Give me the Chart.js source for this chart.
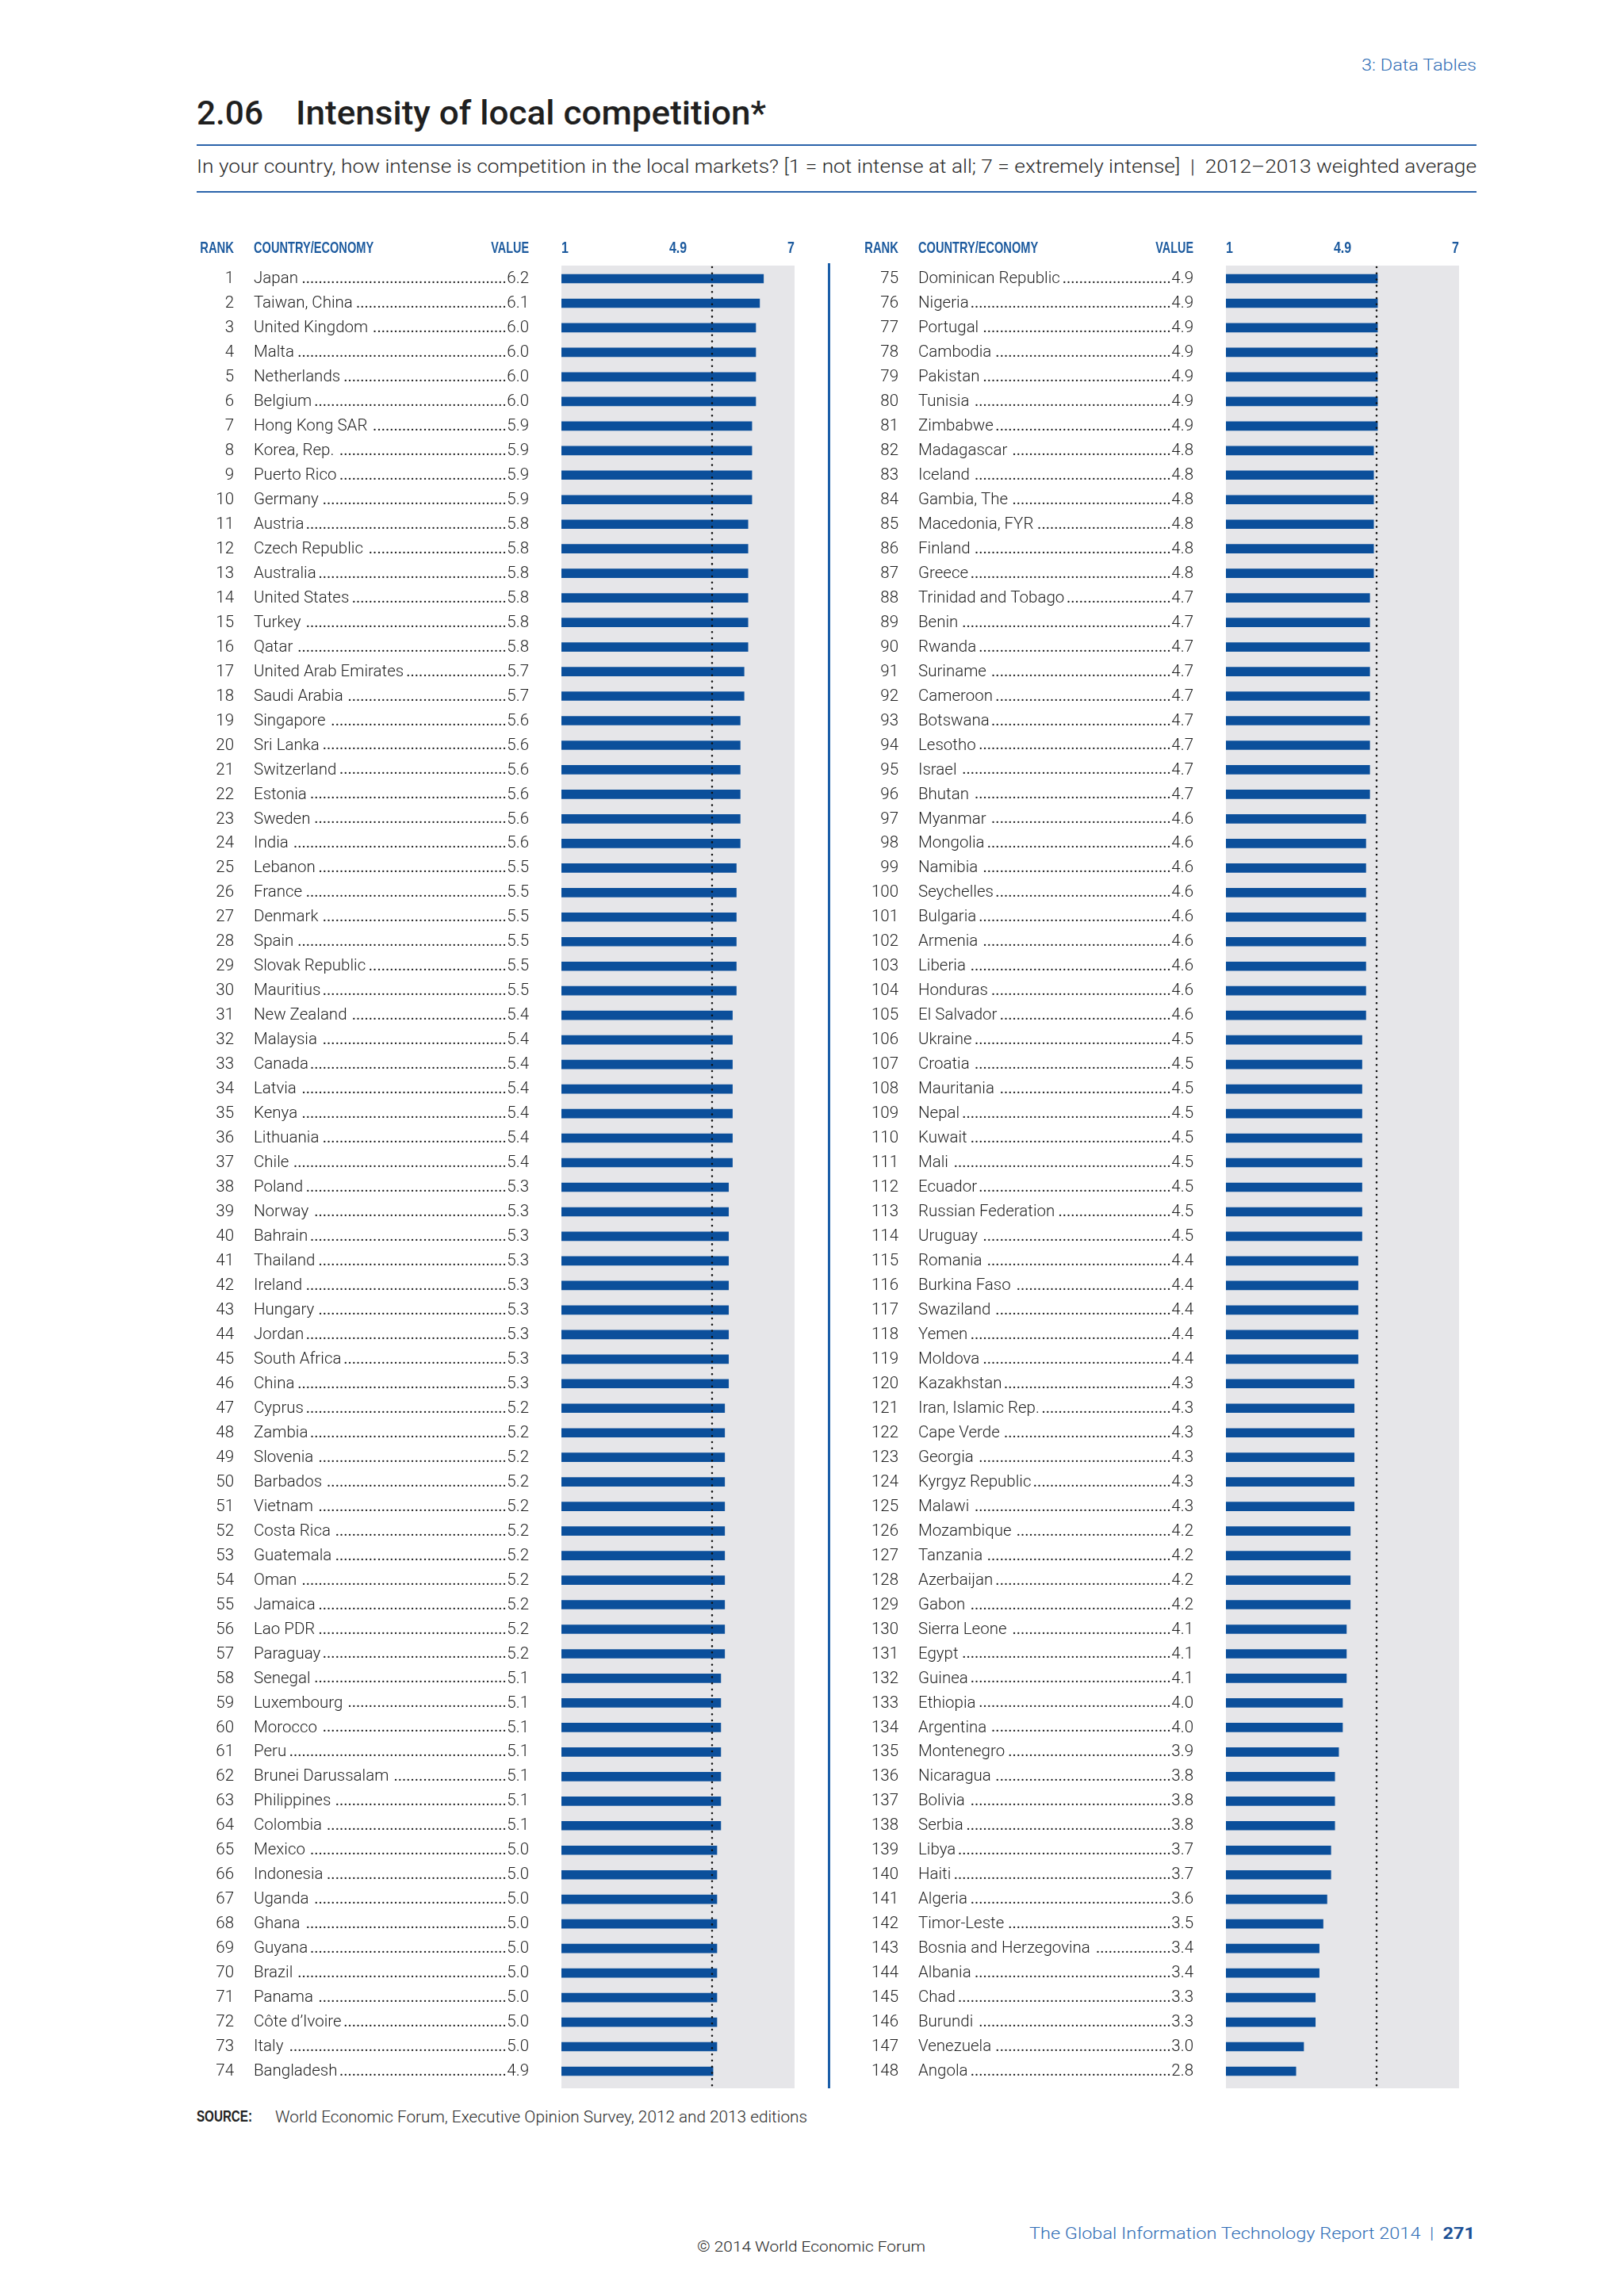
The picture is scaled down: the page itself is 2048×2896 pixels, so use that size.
<!DOCTYPE html>
<html>
<head>
<meta charset="utf-8">
<script src="https://cdn.jsdelivr.net/npm/chart.js@4.4.1/dist/chart.umd.min.js"></script>
<style>
  html, body { margin: 0; padding: 0; background: #fff; }
  #page { position: relative; width: 2048px; height: 2896px; overflow: hidden; }
  .txt { position: absolute; white-space: nowrap; line-height: 1; transform-origin: left top; }
  .rule { position: absolute; background: #2a63aa; }
  .col { position: absolute; top: 280px; width: 780px; height: 2370px; }
</style>
</head>
<body>
<div id="page">
  <div class="txt" id="section" style="font: 300 21px Roboto; color: #2f6db5;">3: Data Tables</div>
  <div class="txt" id="num" style="font: 500 42px Roboto; color: #1f1f1f;">2.06</div>
  <div class="txt" id="title" style="font: 500 42px Roboto; color: #1f1f1f;">Intensity of local competition*</div>
  <div class="rule" style="left: 248px; top: 182px; width: 1614px; height: 2px;"></div>
  <div class="txt" id="subtitle" style="font: 300 23px Roboto; color: #2b2b2b;">In your country, how intense is competition in the local markets? [1 = not intense at all; 7 = extremely intense]&nbsp;&nbsp;|&nbsp;&nbsp;2012–2013 weighted average</div>
  <div class="rule" style="left: 248px; top: 241px; width: 1614px; height: 2px;"></div>

  <div class="col" style="left: 240px;"><canvas id="left-chart" width="780" height="2370"></canvas></div>
  <div class="col" style="left: 1078px;"><canvas id="right-chart" width="780" height="2370"></canvas></div>
  <div class="rule" style="left: 1044px; top: 332px; width: 3px; height: 2302px; background: #1b5ea8;"></div>

  <div class="txt" id="source-label" style="font: bold 20px 'Liberation Sans'; color: #222;">SOURCE:</div>
  <div class="txt" id="source" style="font: 300 20px Roboto; color: #2b2b2b;">World Economic Forum, Executive Opinion Survey, 2012 and 2013 editions</div>
  <div class="txt" id="copyright" style="font: 300 19px Roboto; color: #222;">© 2014 World Economic Forum</div>
  <div class="txt" id="report" style="font: 300 21px Roboto; color: #2f6db5;">The Global Information Technology Report 2014&nbsp;&nbsp;|&nbsp;&nbsp;<span style="font-weight: 700; color: #1a4f95;">271</span></div>
</div>

<script>
const countries = [
  'Japan', 'Taiwan, China', 'United Kingdom', 'Malta', 'Netherlands', 'Belgium',
  'Hong Kong SAR', 'Korea, Rep.', 'Puerto Rico', 'Germany', 'Austria', 'Czech Republic',
  'Australia', 'United States', 'Turkey', 'Qatar', 'United Arab Emirates', 'Saudi Arabia',
  'Singapore', 'Sri Lanka', 'Switzerland', 'Estonia', 'Sweden', 'India',
  'Lebanon', 'France', 'Denmark', 'Spain', 'Slovak Republic', 'Mauritius',
  'New Zealand', 'Malaysia', 'Canada', 'Latvia', 'Kenya', 'Lithuania',
  'Chile', 'Poland', 'Norway', 'Bahrain', 'Thailand', 'Ireland',
  'Hungary', 'Jordan', 'South Africa', 'China', 'Cyprus', 'Zambia',
  'Slovenia', 'Barbados', 'Vietnam', 'Costa Rica', 'Guatemala', 'Oman',
  'Jamaica', 'Lao PDR', 'Paraguay', 'Senegal', 'Luxembourg', 'Morocco',
  'Peru', 'Brunei Darussalam', 'Philippines', 'Colombia', 'Mexico', 'Indonesia',
  'Uganda', 'Ghana', 'Guyana', 'Brazil', 'Panama', 'Côte d’Ivoire',
  'Italy', 'Bangladesh',
  'Dominican Republic', 'Nigeria', 'Portugal', 'Cambodia', 'Pakistan', 'Tunisia',
  'Zimbabwe', 'Madagascar', 'Iceland', 'Gambia, The', 'Macedonia, FYR', 'Finland',
  'Greece', 'Trinidad and Tobago', 'Benin', 'Rwanda', 'Suriname', 'Cameroon',
  'Botswana', 'Lesotho', 'Israel', 'Bhutan', 'Myanmar', 'Mongolia',
  'Namibia', 'Seychelles', 'Bulgaria', 'Armenia', 'Liberia', 'Honduras',
  'El Salvador', 'Ukraine', 'Croatia', 'Mauritania', 'Nepal', 'Kuwait',
  'Mali', 'Ecuador', 'Russian Federation', 'Uruguay', 'Romania', 'Burkina Faso',
  'Swaziland', 'Yemen', 'Moldova', 'Kazakhstan', 'Iran, Islamic Rep.', 'Cape Verde',
  'Georgia', 'Kyrgyz Republic', 'Malawi', 'Mozambique', 'Tanzania', 'Azerbaijan',
  'Gabon', 'Sierra Leone', 'Egypt', 'Guinea', 'Ethiopia', 'Argentina',
  'Montenegro', 'Nicaragua', 'Bolivia', 'Serbia', 'Libya', 'Haiti',
  'Algeria', 'Timor-Leste', 'Bosnia and Herzegovina', 'Albania', 'Chad', 'Burundi',
  'Venezuela', 'Angola'
];

const values = [
  6.2, 6.1, 6.0, 6.0, 6.0, 6.0,
  5.9, 5.9, 5.9, 5.9, 5.8, 5.8,
  5.8, 5.8, 5.8, 5.8, 5.7, 5.7,
  5.6, 5.6, 5.6, 5.6, 5.6, 5.6,
  5.5, 5.5, 5.5, 5.5, 5.5, 5.5,
  5.4, 5.4, 5.4, 5.4, 5.4, 5.4,
  5.4, 5.3, 5.3, 5.3, 5.3, 5.3,
  5.3, 5.3, 5.3, 5.3, 5.2, 5.2,
  5.2, 5.2, 5.2, 5.2, 5.2, 5.2,
  5.2, 5.2, 5.2, 5.1, 5.1, 5.1,
  5.1, 5.1, 5.1, 5.1, 5.0, 5.0,
  5.0, 5.0, 5.0, 5.0, 5.0, 5.0,
  5.0, 4.9,
  4.9, 4.9, 4.9, 4.9, 4.9, 4.9,
  4.9, 4.8, 4.8, 4.8, 4.8, 4.8,
  4.8, 4.7, 4.7, 4.7, 4.7, 4.7,
  4.7, 4.7, 4.7, 4.7, 4.6, 4.6,
  4.6, 4.6, 4.6, 4.6, 4.6, 4.6,
  4.6, 4.5, 4.5, 4.5, 4.5, 4.5,
  4.5, 4.5, 4.5, 4.5, 4.4, 4.4,
  4.4, 4.4, 4.4, 4.3, 4.3, 4.3,
  4.3, 4.3, 4.3, 4.2, 4.2, 4.2,
  4.2, 4.1, 4.1, 4.1, 4.0, 4.0,
  3.9, 3.8, 3.8, 3.8, 3.7, 3.7,
  3.6, 3.5, 3.4, 3.4, 3.3, 3.3,
  3.0, 2.8
];

const columnHeaders = ['RANK', 'COUNTRY/ECONOMY', 'VALUE'];
const tickLabels = ['1', '4.9', '7'];
const axisMin = 1;
const axisMax = 7;
const meanValue = 4.9;
const rowsPerColumn = 74;

const BLUE_BAR = '#0b4f9b';
const BLUE_HEAD = '#1c5a9e';
const PANEL_GREY = '#e6e6e9';
const TEXT = '#1f1f1f';

function place(id, left, baseline, width) {
  const el = document.getElementById(id);
  const size = parseFloat(getComputedStyle(el).fontSize);
  el.style.left = left + 'px';
  el.style.top = (baseline - 0.845 * size) + 'px';
  if (width) {
    const w = el.getBoundingClientRect().width;
    el.style.transform = `scaleX(${width / w})`;
  }
}

place('section', 1717, 88, 145);
place('num', 248, 153, 84);
place('title', 373, 153, 593);
place('subtitle', 248, 216, 1614);
place('source-label', 248, 2675, 70);
place('source', 347, 2675, 671);
place('copyright', 879, 2838, 288);
place('report', 1298, 2823, 562);

function condensedText(ctx, text, x, y, align, squeeze) {
  ctx.save();
  ctx.translate(x, y);
  ctx.scale(squeeze, 1);
  ctx.textAlign = align;
  ctx.fillText(text, 0, 0);
  ctx.restore();
}

const tablePlugin = {
  id: 'rankingTable',
  beforeDatasetsDraw(chart) {
    const { ctx, chartArea, scales } = chart;
    const x0 = scales.x.getPixelForValue(axisMin);
    const x1 = scales.x.getPixelForValue(axisMax);
    ctx.save();
    ctx.fillStyle = PANEL_GREY;
    ctx.fillRect(x0, chartArea.top - 1, x1 - x0, chartArea.bottom - chartArea.top + 7);
    ctx.restore();
  },
  afterDatasetsDraw(chart) {
    const { ctx, chartArea, scales } = chart;
    const xm = Math.round(scales.x.getPixelForValue(meanValue)) - 1;
    ctx.save();
    ctx.strokeStyle = '#111';
    ctx.lineWidth = 2.6;
    ctx.lineCap = 'round';
    ctx.setLineDash([0, 7.8]);
    ctx.beginPath();
    ctx.moveTo(xm, chartArea.top + 1);
    ctx.lineTo(xm, chartArea.bottom + 6);
    ctx.stroke();
    ctx.restore();
  },
  afterDraw(chart) {
    const { ctx, chartArea, scales } = chart;
    const meta = chart.options.plugins.rankingTable;
    const left = chartArea.left;
    const rankX = left - 413;
    const nameX = left - 388;
    const valueX = left - 41;
    const headY = chartArea.top - 17;

    ctx.save();
    ctx.fillStyle = BLUE_HEAD;
    ctx.font = 'bold 20px "Liberation Sans"';
    ctx.textBaseline = 'alphabetic';
    condensedText(ctx, columnHeaders[0], rankX, headY, 'right', 0.74);
    condensedText(ctx, columnHeaders[1], nameX, headY, 'left', 0.73);
    condensedText(ctx, columnHeaders[2], valueX, headY, 'right', 0.72);
    condensedText(ctx, tickLabels[0], scales.x.getPixelForValue(axisMin), headY, 'left', 0.8);
    condensedText(ctx, tickLabels[1], scales.x.getPixelForValue((axisMin + axisMax) / 2), headY, 'center', 0.8);
    condensedText(ctx, tickLabels[2], scales.x.getPixelForValue(axisMax), headY, 'right', 0.8);

    ctx.fillStyle = TEXT;
    ctx.textBaseline = 'middle';
    chart.data.labels.forEach((name, i) => {
      const y = scales.y.getPixelForValue(i) + 0.5;
      const valueText = chart.data.datasets[0].data[i].toFixed(1);
      ctx.font = '300 20.5px Roboto';
      ctx.textAlign = 'right';
      ctx.fillText(String(meta.ranks[i]), rankX, y);
      ctx.fillText(valueText, valueX, y);
      ctx.textAlign = 'left';
      ctx.fillText(name, nameX, y);
      const start = nameX + ctx.measureText(name).width + 2;
      const end = valueX - ctx.measureText(valueText).width - 0.5;
      // leader dots a touch heavier, as in the print
      ctx.font = '400 20px Roboto';
      const dotW = ctx.measureText('.').width;
      const n = Math.floor((end - start) / dotW);
      if (n > 0) {
        ctx.textAlign = 'right';
        ctx.fillText('.'.repeat(n), end, y);
      }
    });
    ctx.restore();
  }
};

function buildColumn(canvasId, startIndex) {
  const names = countries.slice(startIndex, startIndex + rowsPerColumn);
  const scores = values.slice(startIndex, startIndex + rowsPerColumn);
  const ranks = names.map((_, i) => startIndex + i + 1);

  return new Chart(document.getElementById(canvasId), {
    type: 'bar',
    data: {
      labels: names,
      datasets: [
        {
          data: scores,
          backgroundColor: BLUE_BAR,
          borderWidth: 0,
          barThickness: 11,
          base: axisMin
        }
      ]
    },
    options: {
      indexAxis: 'y',
      responsive: false,
      animation: false,
      layout: {
        padding: { left: 468, right: 18, top: 56, bottom: 22 }
      },
      scales: {
        x: { type: 'linear', min: axisMin, max: axisMax, display: false },
        y: { display: false }
      },
      plugins: {
        legend: { display: false },
        tooltip: { enabled: false },
        rankingTable: { ranks }
      }
    },
    plugins: [tablePlugin]
  });
}

buildColumn('left-chart', 0);
buildColumn('right-chart', rowsPerColumn);
</script>
</body>
</html>
